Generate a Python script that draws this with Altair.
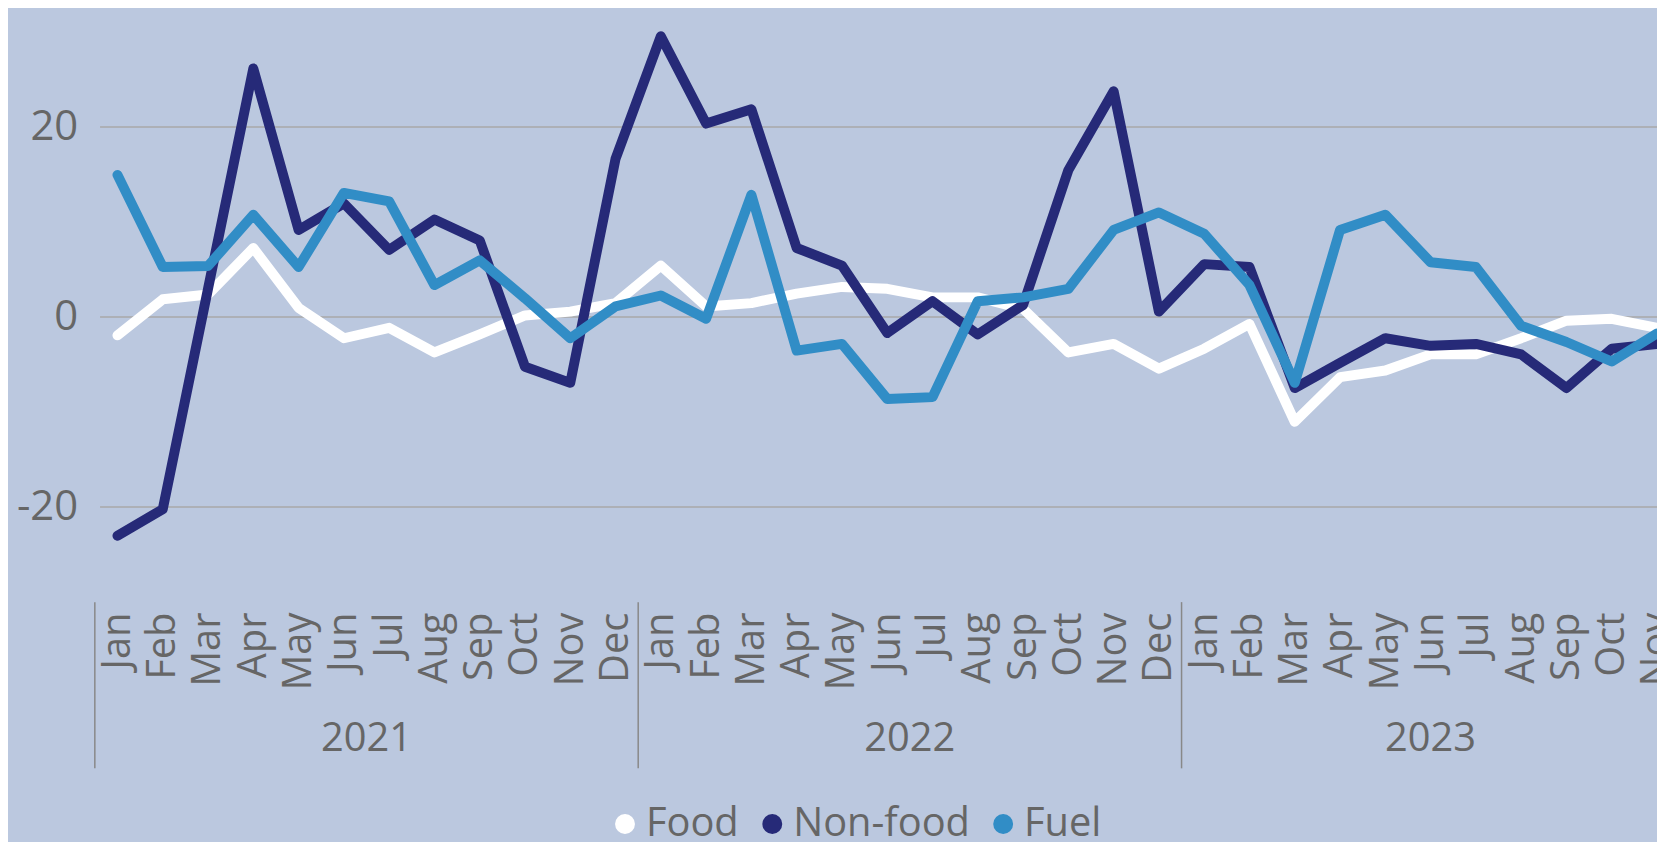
import altair as alt
import pandas as pd

MONTHS = ["Jan", "Feb", "Mar", "Apr", "May", "Jun", "Jul", "Aug", "Sep", "Oct", "Nov", "Dec"]
YEARS = [2021] * 12 + [2022] * 12 + [2023] * 11
SERIES = ["Food", "Non-food", "Fuel"]
COLORS = ["#FFFFFF", "#262A78", "#318DC6"]
Y_TICKS = [-20, 0, 20]

FOOD = [-2.0, 1.8, 2.3, 7.2, 0.9, -2.3, -1.2, -3.8, -1.9, 0.1, 0.5, 1.4,
        5.35, 1.05, 1.4, 2.4, 3.1, 2.9, 2.0, 2.0, 0.8, -3.8, -2.9, -5.5,
        -3.4, -0.8, -11.1, -6.4, -5.7, -4.0, -4.0, -2.3, -0.45, -0.25, -1.2]
NONFOOD = [-23.1, -20.3, 2.9, 26.1, 9.1, 11.9, 7.0, 10.2, 8.0, -5.3, -7.0, 16.6,
           29.5, 20.3, 21.8, 7.2, 5.35, -1.75, 1.6, -1.9, 1.2, 15.4, 23.7, 0.5,
           5.5, 5.2, -7.55, -4.9, -2.3, -3.1, -2.9, -4.0, -7.55, -3.4, -2.9]
FUEL = [14.9, 5.2, 5.3, 10.7, 5.2, 13.0, 12.1, 3.3, 5.9, 1.9, -2.3, 1.05,
        2.2, -0.25, 12.8, -3.6, -2.9, -8.7, -8.5, 1.6, 2.0, 2.9, 9.1, 10.95,
        8.7, 3.3, -7.0, 9.1, 10.7, 5.7, 5.2, -1.0, -2.7, -4.75, -1.8]

N = len(YEARS)
MONTH_LABELS = [MONTHS[i % 12] for i in range(N)]

rows = []
for name, vals in zip(SERIES, [FOOD, NONFOOD, FUEL]):
    for i, v in enumerate(vals):
        rows.append({"idx": i, "year": YEARS[i], "month": MONTH_LABELS[i],
                     "series": name, "value": v})
df = pd.DataFrame(rows)

base = pd.DataFrame({"idx": list(range(N)), "year": YEARS})
years_df = base.groupby("year", as_index=False)["idx"].agg(["min", "max"]).reset_index()
years_df["center"] = (years_df["min"] + years_df["max"]) / 2
years_df["label"] = years_df["year"].astype(str)
sep_df = pd.DataFrame({"pos": list(years_df["min"] - 0.5)})

FONT = "Open Sans"
GREY = "#666666"
BG = "#BBC8DF"

xscale = alt.Scale(domain=[-0.3956, N - 1], nice=False, zero=False)
yscale = alt.Scale(domain=[-26, 31], nice=False, zero=False)

month_expr = "[" + ",".join("'%s'" % m for m in MONTH_LABELS) + "][datum.value]"

lines = alt.Chart(df).mark_line(
    strokeWidth=10, strokeCap="round", strokeJoin="round"
).encode(
    x=alt.X("idx:Q", scale=xscale, title=None,
            axis=alt.Axis(values=list(range(N)), labelExpr=month_expr,
                          labelAngle=270, labelFontSize=40, labelFont=FONT,
                          labelColor=GREY, labelPadding=49, ticks=False,
                          tickSize=0, domain=False, grid=False,
                          labelOverlap=False, labelFlush=False, title=None)),
    y=alt.Y("value:Q", scale=yscale, title=None,
            axis=alt.Axis(values=Y_TICKS, grid=True, gridColor="#A9A9A9",
                          gridWidth=1.5, domain=False, ticks=False, tickSize=0,
                          labelPadding=22, labelFontSize=42, labelFont=FONT,
                          labelColor=GREY, title=None,
                          labelExpr="datum.value < 0 ? '-' + abs(datum.value) : '' + datum.value")),
    color=alt.Color("series:N", scale=alt.Scale(domain=SERIES, range=COLORS),
                    sort=SERIES,
                    legend=alt.Legend(orient="none", legendX=508, legendY=786,
                                      direction="horizontal", title=None,
                                      symbolType="circle", symbolSize=100,
                                      symbolStrokeWidth=10, labelFontSize=40,
                                      labelFont=FONT, labelColor=GREY,
                                      labelOffset=1, columnPadding=8,
                                      labelLimit=600, padding=0)),
)

years = alt.Chart(years_df).mark_text(
    fontSize=40, font=FONT, color=GREY, baseline="alphabetic", align="center"
).encode(
    x=alt.X("center:Q", scale=xscale, title=None),
    y=alt.value(733),
    text="label:N",
)

seps = alt.Chart(sep_df).mark_rule(color="#888888", strokeWidth=1.5).encode(
    x=alt.X("pos:Q", scale=xscale, title=None),
    y=alt.value(583),
    y2=alt.value(750),
)

chart = alt.layer(seps, years, lines).properties(
    width=1565, height=544,
    padding={"left": 92, "top": 12, "right": 0, "bottom": 278},
    autosize=alt.AutoSizeParams(type="none"),
    background=BG,
).configure(font=FONT).configure_view(strokeWidth=0, strokeOpacity=0)

chart.save("out.html", embed_options={"renderer": "svg", "actions": False})
